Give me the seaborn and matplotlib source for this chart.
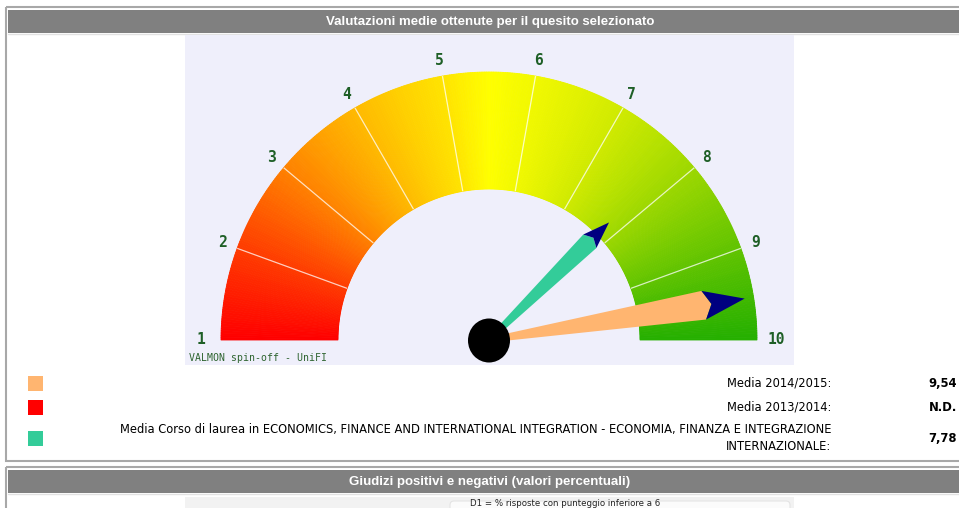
import numpy as np
import matplotlib
matplotlib.use("Agg")
import matplotlib.pyplot as plt
from matplotlib.patches import Wedge, Polygon, Ellipse, Rectangle, FancyBboxPatch
import seaborn as sns

# ---------------- data ----------------
title_top = "Valutazioni medie ottenute per il quesito selezionato"
title_bottom = "Giudizi positivi e negativi (valori percentuali)"
scale_ticks = [1, 2, 3, 4, 5, 6, 7, 8, 9, 10]
series_labels = ["Media 2014/2015:",
                 "Media 2013/2014:",
                 "Media Corso di laurea in ECONOMICS, FINANCE AND INTERNATIONAL INTEGRATION - ECONOMIA, FINANZA E INTEGRAZIONE\nINTERNAZIONALE:"]
series_values = [9.54, None, 7.78]
series_value_text = ["9,54", "N.D.", "7,78"]
series_colors = ["#FFB570", "#FF0000", "#33CC99"]
credit = "VALMON spin-off - UniFI"
bottom_caption = "D1 = % risposte con punteggio inferiore a 6"

# gradient stops along the dial (from value 1 to value 10)
dial_stops = ["#FF0000", "#FF1E00", "#FF3C00", "#FF5F00", "#FF8200", "#FFA000",
              "#FFBA00", "#FFD000", "#FFE400", "#FFFF00", "#F2F900", "#E2F200",
              "#D0EA00", "#B8E200", "#9ED800", "#80CE00", "#62C400", "#44BA00",
              "#26B000"]

# ---------------- style ----------------
sns.set_theme(style="white")
plt.rcParams["font.family"] = ["DejaVu Sans"]

W, H = 959, 508
fig = plt.figure(figsize=(W / 100, H / 100), dpi=100)
fig.patch.set_facecolor("white")

page = fig.add_axes([0, 0, 1, 1])
page.set_xlim(0, W)
page.set_ylim(H, 0)
page.axis("off")

# box 1
page.add_patch(Rectangle((6, 7), 960, 454, fill=False, ec="#A8A8A8", lw=1.5))
page.add_patch(Rectangle((8, 10), 960, 23, fc="#808080", ec="none"))
page.plot([8, 960], [33.5, 33.5], color="#E2E2E2", lw=1)
page.text(490, 21.5, title_top, color="white", fontsize=9.5, fontweight="bold",
          family="Liberation Sans", ha="center", va="center")

# box 2
page.add_patch(Rectangle((6, 467), 960, 60, fill=False, ec="#A8A8A8", lw=1.5))
page.add_patch(Rectangle((8, 470), 960, 23, fc="#808080", ec="none"))
page.plot([8, 960], [493.5, 493.5], color="#E2E2E2", lw=1)
page.text(490, 481.5, title_bottom, color="white", fontsize=9.5, fontweight="bold",
          family="Liberation Sans", ha="center", va="center")
page.add_patch(Rectangle((185, 497), 609, 20, fc="#F2F2F2", ec="none"))
page.add_patch(FancyBboxPatch((450, 501), 340, 20, boxstyle="round,pad=0,rounding_size=4",
                              fc="#FBFBFB", ec="#E4E4E4", lw=0.8))
page.text(470, 507.6, bottom_caption, fontsize=6.2, color="#222222", ha="left", va="bottom")

# legend rows
row_y = [383.5, 407.5, 438]
for i, (lab, val, col) in enumerate(zip(series_labels, series_value_text, series_colors)):
    page.add_patch(Rectangle((28, row_y[i] - 7.5), 15, 15, fc=col, ec="none"))
    page.text(831, row_y[i], lab, fontsize=8.3, color="black", ha="right", va="center",
              linespacing=1.45, multialignment="right")
    page.text(957, row_y[i], val, fontsize=8.4, fontweight="bold", color="black",
              ha="right", va="center")

# ---------------- gauge ----------------
gx0, gy0, gw, gh = 185, 35, 609, 330
cx = 489 - gx0
g = fig.add_axes([gx0 / W, (H - gy0 - gh) / H, gw / W, gh / H])
g.set_xlim(-cx, gw - cx)
g.set_ylim(-(gh - (340 - gy0)), 340 - gy0)
g.set_facecolor("#EFEFFB")
for s in g.spines.values():
    s.set_visible(False)
g.set_xticks([])
g.set_yticks([])

R_OUT, R_IN = 268, 151
vmin, vmax = scale_ticks[0], scale_ticks[-1]


def ang(v):
    return 180.0 - (v - vmin) / (vmax - vmin) * 180.0


n_slices = 360
pal = sns.blend_palette(dial_stops, n_colors=n_slices)
edges = np.linspace(vmin, vmax, n_slices + 1)
for k in range(n_slices):
    a1, a2 = ang(edges[k + 1]), ang(edges[k])
    g.add_patch(Wedge((0, 0), R_OUT, a1, a2, width=R_OUT - R_IN,
                      fc=pal[k], ec=pal[k], lw=0.6))

for t in scale_ticks[1:-1]:
    a = np.deg2rad(ang(t))
    g.plot([R_IN * np.cos(a), R_OUT * np.cos(a)], [R_IN * np.sin(a), R_OUT * np.sin(a)],
           color="white", alpha=0.75, lw=0.9, solid_capstyle="butt")

for t in scale_ticks:
    a = np.deg2rad(ang(t))
    r = 284
    x = r * np.cos(a) + (-4 if t == vmin else (3 if t == vmax else 0))
    g.text(x, r * np.sin(a), str(t), family="DejaVu Sans Mono", fontweight="semibold",
           fontsize=10.5, color="#1E5F26", ha="center", va="center")

g.text(-300, -18, credit, family="DejaVu Sans Mono", fontsize=7.1, color="#2E6430",
       ha="left", va="center")

# needles
needle_lengths = [259, None, 168]


def needle(theta_deg, L, col, base_hw=2.5):
    th = np.deg2rad(theta_deg)
    u = np.array([np.cos(th), np.sin(th)])
    p = np.array([-np.sin(th), np.cos(th)])
    rc, hw, rn = 0.84 * L, 0.056 * L, 0.87 * L
    A = rc * u + hw * p
    B = rc * u - hw * p
    N = rn * u
    T = L * u
    body = [base_hw * p, A, N, B, -base_hw * p]
    head = [A, T, B, N]
    g.add_patch(Polygon(body, closed=True, fc=col, ec="none"))
    g.add_patch(Polygon(head, closed=True, fc="#000080", ec="none"))


for v, L, col in zip(series_values, needle_lengths, series_colors):
    if v is None:
        continue
    needle(ang(v), L, col)

g.add_patch(Ellipse((0, -0.5), 42, 44, fc="black", ec="none", zorder=5))

fig.savefig("out.png", dpi=100, facecolor="white")
